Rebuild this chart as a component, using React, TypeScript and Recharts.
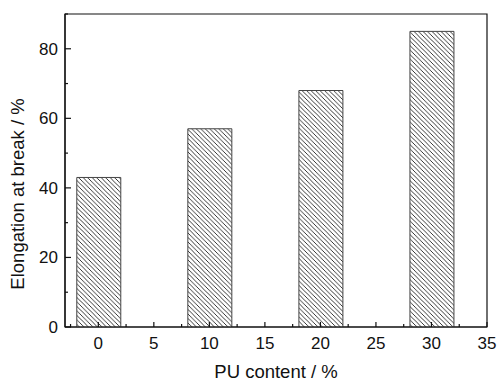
import React from 'react';
import { BarChart, Bar, XAxis, YAxis, ReferenceArea } from 'recharts';

const puContent = [0, 10, 20, 30];
const elongation = [43, 57, 68, 85];

const xTicks = [-2.5, 0, 2.5, 5, 7.5, 10, 12.5, 15, 17.5, 20, 22.5, 25, 27.5, 30, 32.5, 35];
const yTicks = [0, 10, 20, 30, 40, 50, 60, 70, 80, 90];
const xMajor = [0, 5, 10, 15, 20, 25, 30, 35];
const yMajor = [0, 20, 40, 60, 80];

const data = puContent.map((x, i) => ({ x, value: elongation[i] }));

const FONT = '"Liberation Sans", Arial, sans-serif';
const AXIS = '#111';

function XTick(props: any) {
  const { x, y, payload } = props;
  const major = xMajor.includes(payload.value);
  return (
    <g>
      <line x1={x} y1={y} x2={x} y2={y - (major ? 5 : 3)} stroke={AXIS} strokeWidth={1.2} />
      {major && (
        <text x={x} y={y + 22} textAnchor="middle" fontSize={17} fontFamily={FONT} fill="#111">
          {payload.value}
        </text>
      )}
    </g>
  );
}

function YTick(props: any) {
  const { x, y, payload } = props;
  const major = yMajor.includes(payload.value);
  return (
    <g>
      <line x1={x} y1={y} x2={x + (major ? 6 : 3)} y2={y} stroke={AXIS} strokeWidth={1.2} />
      {major && (
        <text x={x - 7} y={y + 6} textAnchor="end" fontSize={17} fontFamily={FONT} fill="#111">
          {payload.value}
        </text>
      )}
    </g>
  );
}

export default function App() {
  return (
    <div style={{ position: 'absolute', left: 0, top: 0, background: '#fff' }}>
      <BarChart width={498} height={382} data={data} margin={{ top: 14, right: 11, left: 0, bottom: 0 }}>
        <defs>
          <pattern id="hatch" patternUnits="userSpaceOnUse" width="4.5" height="4.5">
            <rect width="4.5" height="4.5" fill="#fff" />
            <path d="M-1,-1 L5.5,5.5 M-1,3.5 L1,5.5 M3.5,-1 L5.5,1" stroke="#222" strokeWidth={0.9} />
          </pattern>
        </defs>
        <XAxis
          dataKey="x"
          type="number"
          scale="linear"
          domain={[-3, 35]}
          allowDataOverflow
          ticks={xTicks}
          interval={0}
          height={55}
          tickSize={0}
          tickMargin={0}
          tickLine={false}
          tick={<XTick />}
          stroke={AXIS}
          strokeWidth={1.2}
          label={{
            value: 'PU content / %',
            position: 'insideBottom',
            offset: 4,
            fontSize: 18.5,
            fontFamily: FONT,
            fill: '#111',
          }}
        />
        <YAxis
          type="number"
          domain={[0, 90]}
          allowDataOverflow
          ticks={yTicks}
          interval={0}
          width={65}
          tickSize={0}
          tickMargin={0}
          tickLine={false}
          tick={<YTick />}
          stroke={AXIS}
          strokeWidth={1.2}
          label={{
            content: () => (
              <text
                x={0}
                y={0}
                transform="translate(24,194) rotate(-90)"
                textAnchor="middle"
                fontSize={18.5}
                fontFamily={FONT}
                fill="#111"
              >
                Elongation at break / %
              </text>
            ),
          }}
        />
        <ReferenceArea x1={-3} x2={35} y1={0} y2={90} fill="none" stroke={AXIS} strokeWidth={1.2} ifOverflow="visible" />
        <Bar dataKey="value" barSize={44} fill="url(#hatch)" stroke="#444" strokeWidth={1} isAnimationActive={false} />
      </BarChart>
    </div>
  );
}
